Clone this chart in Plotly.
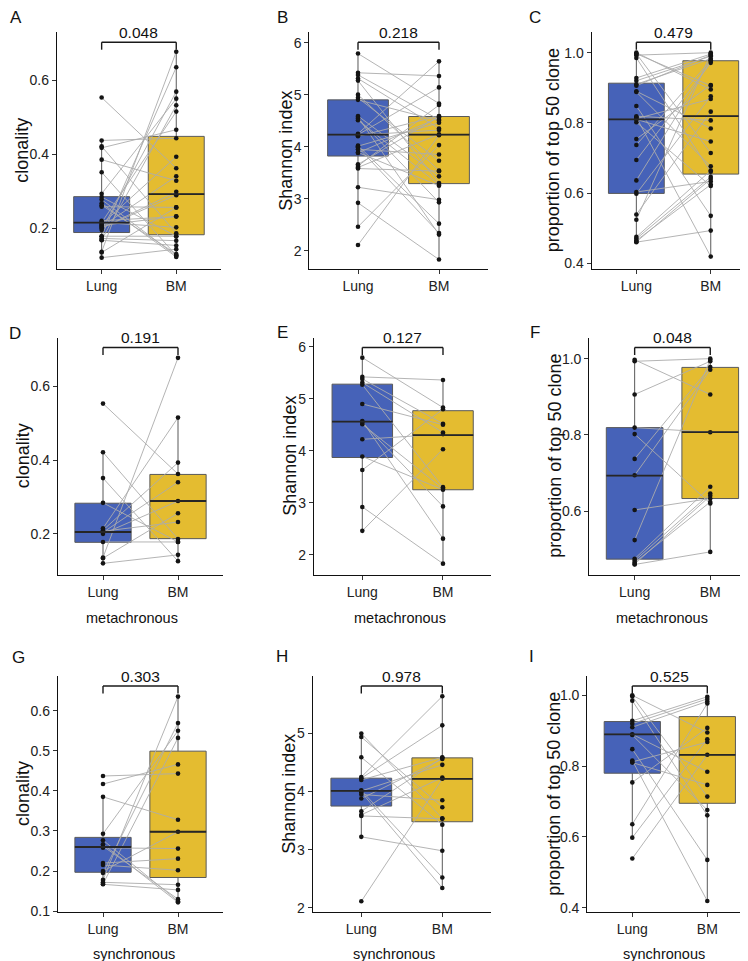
import plotly.graph_objects as go

W, H = 748, 961
FONT = "Liberation Sans, Arial, sans-serif"

categories = ["Lung", "BM"]

# ---------------- data: metachronous ----------------
meta_clonality_lung = [0.553, 0.421, 0.351, 0.284, 0.215, 0.210, 0.207, 0.204, 0.200, 0.178, 0.136, 0.134, 0.120]
meta_clonality_bm = [0.362, 0.186, 0.126, 0.178, 0.515, 0.393, 0.232, 0.340, 0.289, 0.178, 0.677, 0.256, 0.143]

meta_shannon_lung = [5.79, 5.42, 5.38, 5.31, 5.27, 4.90, 4.57, 4.54, 4.51, 4.22, 3.89, 3.63, 2.92, 2.46]
meta_shannon_bm = [4.83, 5.36, 4.52, 4.35, 3.30, 4.50, 2.31, 2.93, 3.27, 4.32, 3.25, 4.80, 1.83, 4.03]

meta_top50_lung = [0.997, 0.993, 0.906, 0.819, 0.802, 0.737, 0.694, 0.603, 0.524, 0.475, 0.470, 0.465, 0.461, 0.460]
meta_top50_bm = [0.906, 1.000, 0.993, 0.807, 0.620, 0.978, 0.971, 0.633, 0.997, 0.664, 0.646, 0.624, 0.640, 0.493]

# ---------------- data: synchronous ----------------
sync_clonality_lung = [0.437, 0.417, 0.385, 0.293, 0.277, 0.267, 0.262, 0.258, 0.220, 0.215, 0.200, 0.195, 0.178, 0.172, 0.168, 0.167]
sync_clonality_bm = [0.443, 0.466, 0.328, 0.550, 0.125, 0.122, 0.130, 0.256, 0.231, 0.202, 0.298, 0.569, 0.635, 0.166, 0.532, 0.153]

sync_shannon_lung = [5.00, 4.94, 4.59, 4.25, 4.23, 4.20, 4.02, 4.01, 3.99, 3.95, 3.88, 3.66, 3.60, 3.58, 3.22, 2.11]
sync_shannon_bm = [3.54, 3.73, 3.43, 5.64, 5.14, 4.59, 2.52, 4.46, 2.34, 3.85, 4.56, 4.58, 4.24, 3.53, 2.98, 4.22]

sync_top50_lung = [1.000, 0.997, 0.985, 0.928, 0.920, 0.910, 0.890, 0.888, 0.848, 0.816, 0.812, 0.810, 0.754, 0.636, 0.598, 0.539]
sync_top50_bm = [0.895, 0.714, 0.661, 0.996, 0.990, 0.983, 0.784, 0.676, 0.535, 0.419, 0.868, 0.747, 0.908, 0.977, 0.876, 0.832]

# ---------------- box statistics [lower whisker, Q1, median, Q3, upper whisker] ----------------
box_A = {"Lung": [0.118, 0.188, 0.215, 0.285, 0.437], "BM": [0.122, 0.182, 0.292, 0.448, 0.676]}
box_B = {"Lung": [2.46, 3.82, 4.23, 4.90, 5.78], "BM": [1.83, 3.29, 4.23, 4.58, 5.64]}
box_C = {"Lung": [0.458, 0.599, 0.810, 0.913, 1.000], "BM": [0.413, 0.654, 0.819, 0.977, 1.000]}
box_D = {"Lung": [0.120, 0.177, 0.205, 0.283, 0.421], "BM": [0.126, 0.187, 0.289, 0.361, 0.515]}
box_E = {"Lung": [2.46, 3.87, 4.56, 5.28, 5.79], "BM": [1.83, 3.25, 4.30, 4.77, 5.36]}
box_F = {"Lung": [0.460, 0.474, 0.693, 0.819, 0.997], "BM": [0.493, 0.633, 0.807, 0.977, 1.000]}
box_G = {"Lung": [0.167, 0.197, 0.260, 0.284, 0.385], "BM": [0.122, 0.184, 0.298, 0.499, 0.635]}
box_H = {"Lung": [3.22, 3.75, 4.01, 4.23, 5.00], "BM": [2.34, 3.48, 4.22, 4.58, 5.64]}
box_I = {"Lung": [0.598, 0.780, 0.890, 0.926, 1.000], "BM": [0.419, 0.695, 0.832, 0.940, 0.996]}

p_values = {"A": "0.048", "B": "0.218", "C": "0.479", "D": "0.191", "E": "0.127",
            "F": "0.048", "G": "0.303", "H": "0.978", "I": "0.525"}

y_titles = {"clonality": "clonality", "shannon": "Shannon index", "top50": "proportion of top 50 clone"}
group_labels = ["metachronous", "synchronous"]

COLORS = {"Lung": "#4662B8", "BM": "#E4BC30"}

# ---------------- panel definitions ----------------
panels = [
    # letter, lung, bm, box, metric, (x0px, x1px), (top, bottom), (vref, pxref, px/unit), dtick, fmt, ytitle_x, letter_xy
    ("A", meta_clonality_lung + sync_clonality_lung, meta_clonality_bm + sync_clonality_bm, box_A, "clonality",
     (48.9, 213.0), (24.5, 263), (0.2, 221.7, 372.5), 0.2, ".1f", 14, (8, 10)),
    ("B", meta_shannon_lung + sync_shannon_lung, meta_shannon_bm + sync_shannon_bm, box_B, "shannon",
     (301.4, 479.6), (24.5, 263), (4, 139.7, 52.4), 1, "d", 278, (274, 10)),
    ("C", meta_top50_lung + sync_top50_lung, meta_top50_bm + sync_top50_bm, box_C, "top50",
     (583.7, 747.4), (24.5, 263), (0.8, 115.7, 353.5), 0.2, ".1f", 544.5, (527, 10)),
    ("D", meta_clonality_lung, meta_clonality_bm, box_D, "clonality",
     (50, 215), (332, 571), (0.2, 529.7, 371.7), 0.2, ".1f", 15, (7, 328)),
    ("E", meta_shannon_lung, meta_shannon_bm, box_E, "shannon",
     (305.9, 483.4), (332, 571), (4, 446, 52.4), 1, "d", 282.5, (274, 327)),
    ("F", meta_top50_lung, meta_top50_bm, box_F, "top50",
     (581.3, 747.6), (332, 571), (0.8, 430, 384), 0.2, ".1f", 547.5, (527, 327)),
    ("G", sync_clonality_lung, sync_clonality_bm, box_G, "clonality",
     (50, 215), (673, 910.5), (0.3, 829, 404), 0.1, ".1f", 15, (10, 654)),
    ("H", sync_shannon_lung, sync_shannon_bm, box_H, "shannon",
     (304.7, 482.9), (673, 910.5), (4, 789.3, 58.5), 1, "d", 280.8, (274, 653)),
    ("I", sync_top50_lung, sync_top50_bm, box_I, "top50",
     (579.3, 744.3), (673, 910.5), (0.8, 763.7, 356.5), 0.2, ".1f", 545.8, (523, 653)),
]

group_label_pos = [
    ("metachronous", 124, 614), ("metachronous", 391.7, 614), ("metachronous", 654, 614),
    ("synchronous", 126, 952.7), ("synchronous", 385.5, 952.7), ("synchronous", 655.8, 952.7),
]

fig = go.Figure()
shapes = []
annotations = []
layout = {}

BOX_W = 0.75
XPOS = {"Lung": 1, "BM": 2}

for i, (letter, lung, bm, box, metric, xpx, ypx, yscale, dtick, fmt, ytx, lxy) in enumerate(panels):
    k = "" if i == 0 else str(i + 1)
    xa, ya = "x" + k, "y" + k
    top, bottom = ypx
    vref, pref, s = yscale
    yrange = [vref - (bottom - pref) / s, vref + (pref - top) / s]
    hpx = bottom - top

    # boxes
    for cat in categories:
        st = box[cat]
        fig.add_trace(go.Box(
            x=[XPOS[cat]], lowerfence=[st[0]], q1=[st[1]], median=[st[2]], q3=[st[3]], upperfence=[st[4]],
            width=BOX_W, fillcolor=COLORS[cat], line=dict(color="#595959", width=1),
            whiskerwidth=0, boxpoints=False, xaxis=xa, yaxis=ya, showlegend=False, hoverinfo="skip"))
        shapes.append(dict(type="line", xref=xa, yref=ya, x0=XPOS[cat] - BOX_W / 2, x1=XPOS[cat] + BOX_W / 2,
                           y0=st[2], y1=st[2], line=dict(color="#262626", width=1.8), layer="above"))

    # paired lines
    lx, ly = [], []
    for a, b in zip(lung, bm):
        lx += [1, 2, None]
        ly += [a, b, None]
    fig.add_trace(go.Scatter(x=lx, y=ly, mode="lines", line=dict(color="#ABABAB", width=0.9),
                             xaxis=xa, yaxis=ya, showlegend=False, hoverinfo="skip"))
    # points
    fig.add_trace(go.Scatter(x=[1] * len(lung) + [2] * len(bm), y=list(lung) + list(bm), mode="markers",
                             marker=dict(color="#141414", size=4.6, line=dict(width=0)),
                             xaxis=xa, yaxis=ya, showlegend=False, hoverinfo="skip", cliponaxis=False))

    # significance bracket
    yb = 1 - 10 / hpx
    yt = 1 - 17.5 / hpx
    bl = dict(color="#1a1a1a", width=1.4)
    shapes.append(dict(type="line", xref=xa, yref=ya + " domain", x0=1, x1=2, y0=yb, y1=yb, line=bl))
    shapes.append(dict(type="line", xref=xa, yref=ya + " domain", x0=1, x1=1, y0=yb, y1=yt, line=bl))
    shapes.append(dict(type="line", xref=xa, yref=ya + " domain", x0=2, x1=2, y0=yb, y1=yt, line=bl))
    annotations.append(dict(text=p_values[letter], xref=xa, yref=ya + " domain", x=1.5, y=1.0,
                            xanchor="center", yanchor="middle", showarrow=False,
                            font=dict(family=FONT, size=15.5, color="#111")))

    # y title
    annotations.append(dict(text=y_titles[metric], xref="paper", yref="paper", x=ytx / W,
                            y=1 - (top + bottom) / 2 / H, textangle=-90, xanchor="center", yanchor="middle",
                            showarrow=False, font=dict(family=FONT, size=18, color="#111")))
    # panel letter
    annotations.append(dict(text=letter, xref="paper", yref="paper", x=lxy[0] / W, y=1 - lxy[1] / H,
                            xanchor="center", yanchor="middle", showarrow=False,
                            font=dict(family=FONT, size=17, color="#111")))

    axis_common = dict(showgrid=False, zeroline=False, showline=True, linecolor="#111", linewidth=1.3,
                       ticks="outside", ticklen=4, tickwidth=1, tickcolor="#333",
                       tickfont=dict(family=FONT, size=14, color="#222"))
    layout["xaxis" + k] = dict(domain=[xpx[0] / W, xpx[1] / W], anchor=ya, range=[0.4, 2.6],
                               tickmode="array", tickvals=[1, 2], ticktext=categories, **axis_common)
    layout["yaxis" + k] = dict(domain=[1 - bottom / H, 1 - top / H], anchor=xa, range=yrange,
                               tick0=0, dtick=dtick, tickformat=fmt, **axis_common)

for text, xp, yp in group_label_pos:
    annotations.append(dict(text=text, xref="paper", yref="paper", x=xp / W, y=1 - yp / H,
                            xanchor="center", yanchor="middle", showarrow=False,
                            font=dict(family=FONT, size=14.5, color="#111")))

fig.update_layout(width=W, height=H, margin=dict(l=0, r=0, t=0, b=0), paper_bgcolor="white",
                  plot_bgcolor="white", shapes=shapes, annotations=annotations, showlegend=False, **layout)

fig.write_html("out.html")
